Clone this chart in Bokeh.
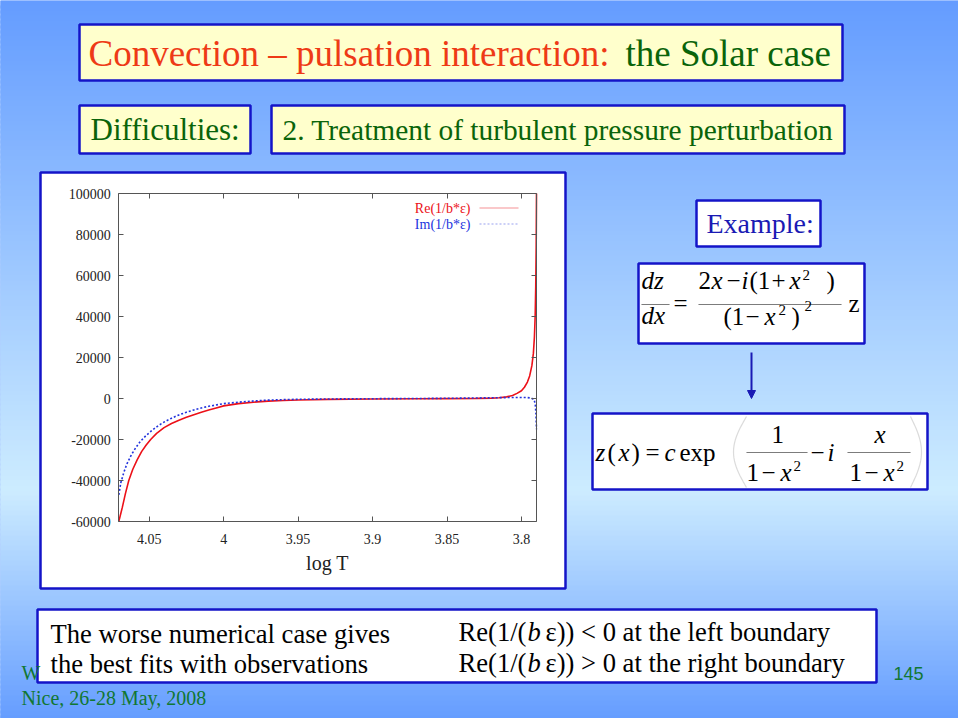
import numpy as np
from bokeh.plotting import figure
from bokeh.models import (Range1d, LinearAxis, FixedTicker, BoxAnnotation, Label,
                          PolyAnnotation, Arrow, NormalHead)
from bokeh.embed import file_html
from bokeh.resources import INLINE

# ---------------- data ----------------
log_t_re = [4.0704, 4.068, 4.066, 4.0637, 4.061, 4.058, 4.055, 4.052, 4.049, 4.045,
            4.04, 4.035, 4.03, 4.025, 4.02, 4.015, 4.01, 4.005, 4.0, 3.99, 3.98,
            3.97, 3.96, 3.95, 3.93, 3.9, 3.87, 3.85, 3.83, 3.82, 3.815, 3.81, 3.806,
            3.803, 3.8, 3.798, 3.796, 3.7945, 3.793, 3.792, 3.7913, 3.7908, 3.7904,
            3.7901, 3.7899]
re_vals = [-60000, -53000, -46500, -40000, -34500, -29800, -25800, -22700, -20000, -17000,
           -14200, -12200, -10600, -9200, -7900, -6700, -5600, -4600, -3600, -2500, -1800,
           -1300, -950, -700, -450, -250, -120, -50, 50, 200, 400, 800, 1500,
           2500, 3800, 5500, 8000, 11000, 16000, 22000, 30000, 40000, 55000,
           75000, 100000]

log_t_im = [4.0704, 4.069, 4.067, 4.065, 4.062, 4.059, 4.056, 4.052, 4.048, 4.044,
            4.04, 4.035, 4.03, 4.025, 4.02, 4.015, 4.01, 4.0, 3.99, 3.98, 3.97,
            3.96, 3.95, 3.92, 3.9, 3.87, 3.85, 3.83, 3.81, 3.8, 3.796, 3.7935,
            3.7915, 3.7907, 3.7903, 3.7899]
im_vals = [-47000, -41000, -36000, -32000, -27500, -24000, -21000, -18000, -15500, -13300,
           -11500, -9600, -8000, -6700, -5600, -4600, -3800, -2500, -1800, -1200, -800,
           -550, -380, -180, -100, 0, 100, 250, 450, 500, 450, 200,
           -500, -3000, -7000, -15000]

series_names = ["Re(1/b*\u03b5)", "Im(1/b*\u03b5)"]
x_lo, x_hi = 4.0704, 3.7899          # left and right limits of the log T axis
y_lo, y_hi = -60000, 100000
x_ticks = [4.05, 4.0, 3.95, 3.9, 3.85, 3.8]
x_tick_labels = ["4.05", "4", "3.95", "3.9", "3.85", "3.8"]
y_ticks = [-60000, -40000, -20000, 0, 20000, 40000, 60000, 80000, 100000]
y_tick_labels = ["-60000", "-40000", "-20000", "0", "20000", "40000", "60000", "80000", "100000"]
x_title = "log T"

# ---------------- page / figure ----------------
W, H = 958, 718
SERIF = "Liberation Serif"
BLUE_BORDER = "#1414C8"
YELLOW = "#FFFFCC"
GREEN = "#0A640A"
RED_TXT = "#EE3A16"
LINE_RED = "#EC1018"
LINE_BLUE = "#2233DD"

# chart frame on the page (pixels)
CL, CR, CT, CB = 118.3, 536.0, 193.0, 521.0
sx_per = (x_hi - x_lo) / (CR - CL)
sy_per = (y_hi - y_lo) / (CB - CT)
chart_x = Range1d(start=x_lo - CL * sx_per, end=x_lo + (W - CL) * sx_per)
chart_y = Range1d(start=y_hi - (H - CT) * sy_per, end=y_hi + CT * sy_per)

p = figure(width=W, height=H, output_backend="svg", toolbar_location=None,
           x_range=Range1d(0, W), y_range=Range1d(H, 0),
           x_axis_location=None, y_axis_location=None, min_border=0)
p.extra_x_ranges = {"chart": chart_x}
p.extra_y_ranges = {"chart": chart_y}
p.grid.visible = False
p.outline_line_color = None
p.background_fill_color = "#649CFF"
p.border_fill_color = "#649CFF"


def make_axis(side, ticks, labels, show, loc, bounds):
    ax = LinearAxis(x_range_name="chart", y_range_name="chart",
                    fixed_location=loc, bounds=bounds)
    ax.ticker = FixedTicker(ticks=ticks)
    ax.major_label_overrides = {t: (l if show else "") for t, l in zip(ticks, labels)}
    ax.major_tick_in = 5
    ax.major_tick_out = 0
    ax.minor_tick_line_color = None
    ax.axis_line_color = "#555555"
    ax.major_tick_line_color = "#555555"
    ax.major_label_text_font = SERIF
    ax.major_label_text_font_size = "14px"
    ax.major_label_text_color = "#222222"
    p.add_layout(ax, side)
    return ax


# ---------------- helpers for slide decoration (page pixels) ----------------
def box(x0, y0, x1, y1, fill, line=BLUE_BORDER, lw=2.5, level="underlay"):
    p.add_layout(BoxAnnotation(left=x0, right=x1, top=y0, bottom=y1,
                               fill_color=fill, fill_alpha=1.0,
                               line_color=line, line_width=lw,
                               line_alpha=1.0 if line else 0.0, level=level))


def label(sx, sy, text, size, color="black", font=SERIF, style="normal", align="left"):
    # sy is the wanted baseline; correct for the renderer's baseline offset
    p.add_layout(Label(x=sx, y=sy - 0.35 * size, text=text, text_font=font,
                       text_font_size=f"{size}px", text_color=color,
                       text_font_style=style, text_align=align,
                       text_baseline="alphabetic"))


def polyline(xs, ys, color, lw=1.0, dash="solid"):
    xx = list(xs) + list(xs)[::-1]
    yy = list(ys) + list(ys)[::-1]
    p.add_layout(PolyAnnotation(xs=xx, ys=yy, fill_alpha=0, line_color=color,
                                line_width=lw, line_dash=dash))


# background gradient (overlapping bands so no seams show)
def grad(sy):
    top = np.array([100, 156, 255])
    mid = np.array([205, 236, 255])
    peak = 490.0
    t = sy / peak if sy <= peak else 1 - (sy - peak) / (720 - peak)
    t = max(0.0, min(1.0, t))
    c = top + (mid - top) * t
    return "#%02x%02x%02x" % tuple(int(round(v)) for v in c)


for sy in range(0, 720, 5):
    box(-2, sy, W + 2, sy + 8, grad(sy + 2.5), line=None, lw=0)

# ---------------- slide boxes ----------------
box(79, 24, 842, 80, YELLOW)
box(79, 105, 250, 153, YELLOW)
box(271, 105, 844, 153, YELLOW)
box(40, 172, 565, 588, "white")
box(696, 200, 820, 246, "white")
box(638, 263, 864, 343, "white")
box(592, 413, 927, 489, "white")
box(37, 609, 876, 682, "white")

# ---------------- chart ----------------
xb = (min(x_lo, x_hi), max(x_lo, x_hi))
yb = (y_lo, y_hi)
bottom_ax = make_axis("below", x_ticks, x_tick_labels, True, y_lo, xb)
bottom_ax.major_label_standoff = 12
bottom_ax.axis_label = x_title
bottom_ax.axis_label_text_font = SERIF
bottom_ax.axis_label_text_font_style = "normal"
bottom_ax.axis_label_text_font_size = "20px"
bottom_ax.axis_label_text_color = "#222222"
bottom_ax.axis_label_standoff = 5
make_axis("above", x_ticks, x_tick_labels, False, y_hi, xb)
left_ax = make_axis("left", y_ticks, y_tick_labels, True, x_lo, yb)
left_ax.major_label_standoff = 8
make_axis("right", y_ticks, y_tick_labels, False, x_hi, yb)

p.line(log_t_re, re_vals, line_color=LINE_RED, line_width=1.6,
       x_range_name="chart", y_range_name="chart")
p.line(log_t_im, im_vals, line_color=LINE_BLUE, line_width=1.6, line_dash="2 2",
       x_range_name="chart", y_range_name="chart")

# legend (gnuplot style: text then sample)
label(470, 212.5, series_names[0], 14, color=LINE_RED, align="right")
label(470, 228.5, series_names[1], 14, color=LINE_BLUE, align="right")
polyline([479, 518], [207.5, 207.5], LINE_RED, lw=1.6)
polyline([479, 518], [223.5, 223.5], LINE_BLUE, lw=1.4, dash="2 2")

# ---------------- titles ----------------
label(88, 66, "Convection \u2013 pulsation  interaction:", 37, color=RED_TXT)
label(625, 66, "the Solar  case", 37, color=GREEN)
label(90, 140, "Difficulties:", 31, color=GREEN)
label(282, 140, "2. Treatment of turbulent pressure perturbation", 29.4, color=GREEN)
label(706, 233, "Example:", 28, color="#1A1AB4")

# ---------------- equation 1 ----------------
F, S = 25, 15
label(641, 289, "dz", F, style="italic")
label(641, 324, "dx", F, style="italic")
polyline([641, 669], [304, 304], "black", lw=1)
label(673, 312, "=", F)
label(698, 289, "2", F)
label(711, 289, "x", F, style="italic")
label(726, 289, "\u2212", F)
label(741, 289, "i", F, style="italic")
label(749, 289, "(1", F)
label(771, 289, "+", F)
label(789, 289, "x", F, style="italic")
label(802, 280, "2", S)
label(826, 289, ")", F)
polyline([698, 841], [304, 304], "black", lw=1)
label(723, 325, "(1", F)
label(745, 325, "\u2212", F)
label(764, 325, "x", F, style="italic")
label(778, 315, "2", S)
label(791, 325, ")", F)
label(804, 311, "2", S)
label(848, 312, "z", F)

# arrow
p.add_layout(Arrow(x_start=751, y_start=352, x_end=751, y_end=398,
                   line_color="#1A1AB4", line_width=2,
                   end=NormalHead(size=8, fill_color="#1A1AB4", line_color="#1A1AB4")))

# ---------------- equation 2 ----------------
label(595, 461, "z", F, style="italic")
label(607, 461, "(", F)
label(618, 461, "x", F, style="italic")
label(631, 461, ")", F)
label(645, 461, "=", F)
label(664, 461, "c", F, style="italic")
label(679, 461, "exp", F)
tt = np.linspace(0, 1, 25)
polyline(746 - 13 * np.sin(np.pi * tt), 416 + 71 * tt, "#888888", lw=1.2)
polyline(910 + 11 * np.sin(np.pi * tt), 416 + 71 * tt, "#888888", lw=1.2)
label(771, 443, "1", F)
polyline([746, 807], [452, 452], "black", lw=1)
label(746, 481, "1", F)
label(761, 481, "\u2212", F)
label(780, 481, "x", F, style="italic")
label(793, 471, "2", S)
label(810, 461, "\u2212", F)
label(827, 461, "i", F, style="italic")
label(874, 443, "x", F, style="italic")
polyline([847, 910], [452, 452], "black", lw=1)
label(849, 481, "1", F)
label(864, 481, "\u2212", F)
label(883, 481, "x", F, style="italic")
label(896, 471, "2", S)

# ---------------- bottom box text ----------------
FB = 26.6
label(50, 643, "The worse numerical case gives", FB)
label(50, 673, "the best fits with observations", FB)
label(458, 641, "Re(1/(", FB)
label(527, 641, "b", FB, style="italic")
label(545, 641, "\u03b5)) < 0 at the left boundary", FB)
label(458, 672, "Re(1/(", FB)
label(527, 672, "b", FB, style="italic")
label(545, 672, "\u03b5)) > 0 at the right boundary", FB)

# ---------------- footer ----------------
label(21, 679, "W", 20, color="#117733")
label(21, 704, "Nice, 26-28 May, 2008", 20, color="#117733")
label(893, 679, "145", 18, color="#117733", font="Liberation Sans")

open("out.html", "w").write(file_html(p, INLINE))
